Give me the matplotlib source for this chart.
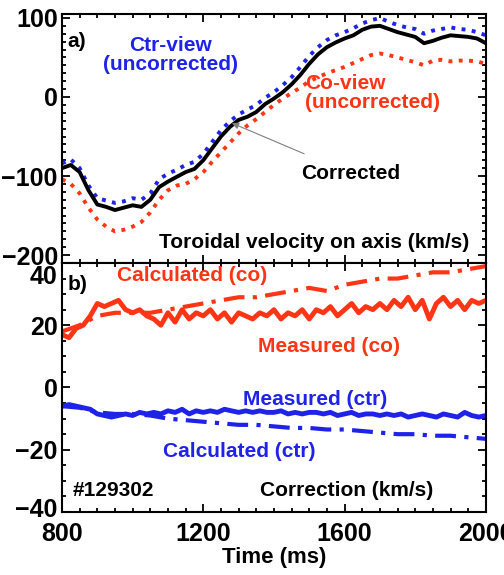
import numpy as np
import matplotlib.pyplot as plt
from matplotlib.ticker import MultipleLocator
from matplotlib.transforms import ScaledTranslation

plt.rcParams['font.family'] = ['Liberation Sans', 'DejaVu Sans']
plt.rcParams['font.weight'] = 'bold'

# ------------------------
# a) toroidal velocity on axis, 25 ms steps
t_a = np.arange(800, 2001, 25)
corrected = [-90, -86, -95, -118, -136, -139, -143, -140, -137, -139,
             -130, -114, -107, -101, -95, -91, -80, -65, -50, -38,
             -29, -25, -19, -9, -2, 6, 16, 28, 42, 54,
             63, 69, 74, 78, 85, 89, 90, 86, 82, 79,
             76, 68, 71, 75, 78, 77, 76, 74, 68]
ctr_view = [-84, -79, -90, -112, -128, -131, -134, -132, -128, -130,
            -122, -104, -97, -92, -86, -82, -72, -57, -42, -31,
            -22, -16, -10, -1, 6, 15, 25, 38, 52, 63,
            72, 78, 82, 87, 93, 97, 100, 95, 91, 88,
            86, 80, 84, 86, 88, 86, 85, 82, 78]
co_view = [-104, -110, -122, -140, -155, -164, -170, -168, -164, -158,
           -146, -130, -118, -112, -110, -104, -95, -82, -70, -58,
           -46, -36, -28, -19, -10, -2, 5, 12, 20, 25,
           30, 34, 38, 43, 48, 53, 55, 53, 50, 47,
           44, 40, 46, 47, 45, 46, 46, 45, 42]

# ------------------------
# b) correction, measured at 20 ms steps, calculated at 50 ms steps
t_meas = np.arange(800, 2001, 20)
meas_co = [17, 16, 19, 20, 23, 27, 26, 27, 28, 25,
           24, 25, 23, 22, 20, 24, 21, 25, 22, 24,
           23, 25, 22, 24, 21, 24, 23, 22, 24, 23,
           25, 22, 24, 23, 25, 22, 25, 24, 26, 23,
           25, 27, 24, 26, 25, 27, 25, 28, 26, 29,
           25, 28, 22, 27, 29, 26, 28, 25, 28, 27, 28]
meas_ctr = [-6, -5.5, -6, -6.5, -7, -8.5, -9, -9.5, -9, -8.5,
            -9, -8, -8.5, -8, -8.5, -7.5, -8, -7, -8.5, -7.5,
            -8, -7.5, -8, -7, -7.5, -8, -7.5, -8, -7.5, -8,
            -8, -7.5, -8.5, -8, -8.5, -8, -8, -8.5, -8, -9,
            -8.5, -8, -9, -8.5, -8.5, -9, -8.5, -9, -8.5, -9.5,
            -9, -8.5, -9, -9.5, -8.5, -9, -9.5, -8, -9, -9.5, -9]
t_calc = np.arange(800, 2001, 50)
calc_co = [18, 20, 23, 24, 24, 24, 25, 26, 27, 28,
           29, 29, 30, 31, 32, 31, 33, 34, 35, 35,
           36, 37, 37, 38, 39]
calc_ctr = [-6, -6.5, -8, -8.5, -8.5, -9, -10, -10.5, -11, -11.5,
            -12, -12, -12.5, -13, -13, -13.5, -13.5, -14, -14.5, -15,
            -15, -15.5, -15.5, -16, -16.5]

yticks_a = [-200, -100, 0, 100]
yticks_b = [-40, -20, 0, 20, 40]

blue = '#1f22e8'
red = '#ff3516'
fs = 15

fig = plt.figure(figsize=(5.04, 5.75), dpi=100)
ax1 = fig.add_axes([0.123, 0.5426, 0.841, 0.4331])
ax2 = fig.add_axes([0.123, 0.1096, 0.841, 0.4330])

ax1.plot(t_a, co_view, ':', color=red, lw=2.8)
ax1.plot(t_a, ctr_view, ':', color=blue, lw=2.8)
ax1.plot(t_a, corrected, '-', color='black', lw=2.8)
ax1.set_ylim(-210, 105)

ax2.plot(t_calc, calc_co, color=red, lw=3, linestyle=(0, (5, 2, 1, 2)))
ax2.plot(t_meas, meas_co, color=red, lw=3.5)
ax2.plot(t_calc, calc_ctr, color=blue, lw=3, linestyle=(0, (5, 2, 1, 2)))
ax2.plot(t_meas, meas_ctr, color=blue, lw=3.5)
ax2.set_ylim(-40, 40)

for ax in (ax1, ax2):
    ax.set_xlim(800, 2000)
    ax.xaxis.set_major_locator(MultipleLocator(400))
    ax.xaxis.set_minor_locator(MultipleLocator(50))
    ax.tick_params(which='both', direction='in', top=True, right=True,
                   width=1.3, labelsize=18, pad=3)
    ax.tick_params(which='major', length=6)
    ax.tick_params(which='minor', length=3)
    for s in ax.spines.values():
        s.set_linewidth(1.5)

ax1.set_yticks(yticks_a)
ax1.yaxis.set_minor_locator(MultipleLocator(10))
ax1.tick_params(labelbottom=False)
ax2.set_yticks(yticks_b)
ax2.yaxis.set_minor_locator(MultipleLocator(5))
ax2.tick_params(axis='x', pad=7)

# nudge the crowded end labels like in the original
ticks_b = ax2.yaxis.get_major_ticks()
ticks_b[-1].label1.set_transform(ticks_b[-1].label1.get_transform()
                                 + ScaledTranslation(0, -11 / 100, fig.dpi_scale_trans))
ticks_b[0].label1.set_transform(ticks_b[0].label1.get_transform()
                                + ScaledTranslation(0, 4 / 100, fig.dpi_scale_trans))

ax2.set_xlabel('Time (ms)', fontsize=16, fontweight='bold', labelpad=1)

# panel a) labels
ax1.text(0.012, 0.89, 'a)', transform=ax1.transAxes, fontsize=fs, va='center')
ax1.text(1106, 53, 'Ctr-view\n(uncorrected)', color=blue, fontsize=fs,
         ha='center', va='center', linespacing=1.0)
ax1.text(1488, 5, 'Co-view\n(uncorrected)', color=red, fontsize=fs,
         ha='left', va='center', linespacing=1.0)
ax1.annotate('Corrected', xy=(1281, -33), xytext=(1618, -97), fontsize=fs,
             ha='center', va='center',
             arrowprops=dict(arrowstyle='-|>', color='gray', lw=0.8,
                             shrinkA=14, shrinkB=0, mutation_scale=10,
                             facecolor='black'))
ax1.text(0.962, 0.084, 'Toroidal velocity on axis (km/s)', transform=ax1.transAxes,
         fontsize=fs, ha='right', va='center')

# panel b) labels
ax2.text(0.012, 0.912, 'b)', transform=ax2.transAxes, fontsize=fs, va='center')
ax2.text(0.13, 0.948, 'Calculated (co)', transform=ax2.transAxes, color=red,
         fontsize=fs, va='center')
ax2.text(0.462, 0.663, 'Measured (co)', transform=ax2.transAxes, color=red,
         fontsize=fs, va='center')
ax2.text(0.427, 0.45, 'Measured (ctr)', transform=ax2.transAxes, color=blue,
         fontsize=fs, va='center')
ax2.text(0.238, 0.241, 'Calculated (ctr)', transform=ax2.transAxes, color=blue,
         fontsize=fs, va='center')
ax2.text(0.026, 0.088, '#129302', transform=ax2.transAxes, fontsize=fs, va='center')
ax2.text(0.875, 0.088, 'Correction (km/s)', transform=ax2.transAxes, fontsize=fs,
         ha='right', va='center')

fig.savefig('out.png', dpi=100)
